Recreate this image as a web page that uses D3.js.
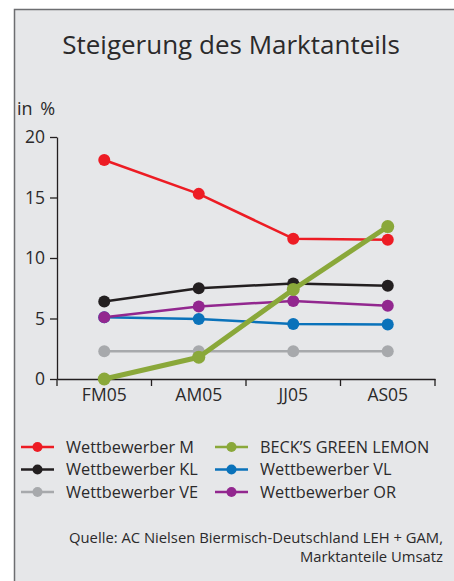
<!DOCTYPE html>
<html>
<head>
<meta charset="utf-8">
<title>Steigerung des Marktanteils</title>
<style>
  body { margin: 0; background: #fff; }
  text { font-family: "Open Sans", "Noto Sans", sans-serif; fill: #2b2a2b; }
</style>
</head>
<body>
<script src="https://cdnjs.cloudflare.com/ajax/libs/d3/7.8.5/d3.min.js"></script>
<script>
// periods and series (Marktanteil in %)
var periods = ['FM05', 'AM05', 'JJ05', 'AS05'];
var yTicks = [0, 5, 10, 15, 20];

var wettbewerberM  = [18.1, 15.3, 11.6, 11.5];
var wettbewerberKL = [6.4, 7.5, 7.9, 7.7];
var wettbewerberVE = [2.3, 2.3, 2.3, 2.3];
var becksGreen     = [0, 1.8, 7.4, 12.6];
var wettbewerberVL = [5.1, 4.95, 4.55, 4.5];
var wettbewerberOR = [5.1, 6.0, 6.45, 6.05];

var seriesNames  = ['Wettbewerber M', 'Wettbewerber KL', 'Wettbewerber VE',
                    'BECK\u2019S GREEN LEMON', 'Wettbewerber VL', 'Wettbewerber OR'];
var seriesValues = [wettbewerberM, wettbewerberKL, wettbewerberVE,
                    becksGreen, wettbewerberVL, wettbewerberOR];
var seriesColors = ['#ed1c24', '#231f20', '#a7a9ac', '#8aa83a', '#0a72ba', '#92278f'];

var series = seriesNames.map(function(n, i) {
  return { name: n, values: seriesValues[i], color: seriesColors[i], main: i == 3 };
});

var W = 454, H = 581;
var svg = d3.select('body').append('svg')
  .attr('width', W)
  .attr('height', H);

// panel
svg.append('rect')
  .attr('x', 14.5).attr('y', 9.5)
  .attr('width', W).attr('height', H)
  .attr('fill', '#e6e7e9')
  .attr('stroke', '#6d6e71')
  .attr('stroke-width', 1.5);

svg.append('text')
  .attr('x', 231).attr('y', 54)
  .attr('text-anchor', 'middle')
  .style('font-size', '26px')
  .text('Steigerung des Marktanteils');

svg.append('text')
  .attr('x', 17).attr('y', 115)
  .style('font-size', '18px')
  .style('word-spacing', '3px')
  .text('in %');

var x = d3.scaleBand().domain(periods).range([57, 435]);
var y = d3.scaleLinear().domain([0, 20]).range([379, 137]);

var gy = svg.append('g')
  .attr('transform', 'translate(57,0)')
  .call(d3.axisLeft(y).tickValues(yTicks).tickSize(7).tickPadding(5).tickSizeOuter(0));
var gx = svg.append('g')
  .attr('transform', 'translate(0,379)')
  .call(d3.axisBottom(x).tickSize(0).tickPadding(10).tickSizeOuter(0));

// tick marks between the periods
gx.selectAll('.sep').data(d3.range(periods.length + 1)).enter().append('line')
  .attr('class', 'sep')
  .attr('x1', function(d) { return 57 + d * x.step(); })
  .attr('x2', function(d) { return 57 + d * x.step(); })
  .attr('y1', 0).attr('y2', 7)
  .attr('stroke', '#231f20').attr('stroke-width', 1.3);

[gx, gy].forEach(function(g) {
  g.select('.domain').attr('stroke', '#231f20').attr('stroke-width', 1.3);
  g.selectAll('.tick line').attr('stroke', '#231f20').attr('stroke-width', 1.3);
  g.selectAll('text').style('font-size', '17.5px').style('font-family', '"Open Sans", "Noto Sans", sans-serif').attr('fill', '#2b2a2b');
});

var cx = function(d, i) { return x(periods[i]) + x.bandwidth() / 2; };
var line = d3.line().x(cx).y(function(d) { return y(d); });

// draw order: VE, VL, OR, KL, M, green on top
var order = [2, 4, 5, 1, 0, 3];
order.forEach(function(k) {
  var s = series[k];
  var g = svg.append('g');
  g.append('path')
    .attr('d', line(s.values))
    .attr('fill', 'none')
    .attr('stroke', s.color)
    .attr('stroke-width', s.main ? 5 : 2.5)
    .attr('stroke-linejoin', 'round');
  g.selectAll('circle').data(s.values).enter().append('circle')
    .attr('cx', cx)
    .attr('cy', function(d) { return y(d); })
    .attr('r', s.main ? 6.5 : 6)
    .attr('fill', s.color);
});

// legend
var leg = svg.selectAll('.leg').data(series).enter().append('g')
  .attr('class', 'leg')
  .attr('transform', function(d, i) {
    var col = i < 3 ? 0 : 1, row = i % 3;
    return 'translate(' + (col ? 215 : 21) + ',' + (447 + row * 22.5) + ')';
  });
leg.append('line')
  .attr('x1', 0).attr('x2', 33)
  .attr('stroke', function(d) { return d.color; })
  .attr('stroke-width', 2.5);
leg.append('circle')
  .attr('cx', 16.5).attr('r', 5)
  .attr('fill', function(d) { return d.color; });
leg.append('text')
  .attr('x', 45).attr('dy', '0.35em')
  .style('font-size', '16.3px')
  .text(function(d) { return d.name; });

svg.append('text')
  .attr('x', 443).attr('y', 543)
  .attr('text-anchor', 'end')
  .style('font-size', '14.8px')
  .text('Quelle: AC Nielsen Biermisch-Deutschland LEH + GAM,');
svg.append('text')
  .attr('x', 443).attr('y', 562)
  .attr('text-anchor', 'end')
  .style('font-size', '14.8px')
  .text('Marktanteile Umsatz');
</script>
</body>
</html>
